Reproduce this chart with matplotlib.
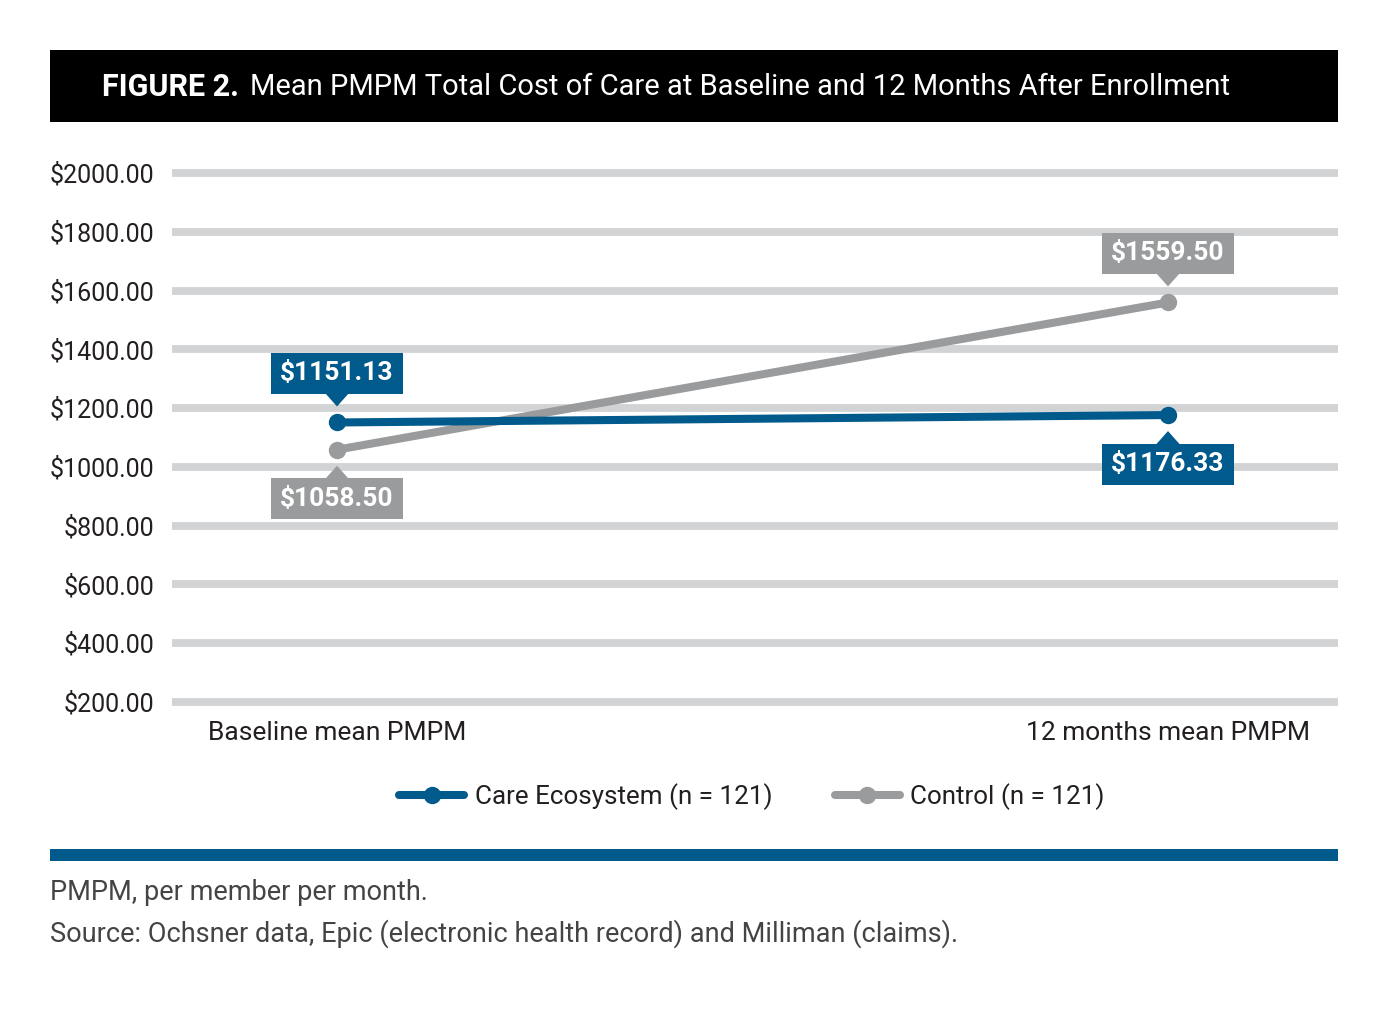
import matplotlib
matplotlib.use("Agg")
import matplotlib.pyplot as plt
from matplotlib.patches import Rectangle, Polygon
from matplotlib.transforms import Affine2D, ScaledTranslation
from matplotlib.lines import Line2D

plt.rcParams['font.family'] = ['Roboto', 'DejaVu Sans']

categories = ["Baseline mean PMPM", "12 months mean PMPM"]
care_values = [1151.13, 1176.33]
control_values = [1058.50, 1559.50]
series_names = ["Care Ecosystem (n = 121)", "Control (n = 121)"]
yticks = [200, 400, 600, 800, 1000, 1200, 1400, 1600, 1800, 2000]
title_bold = "FIGURE 2."
title_rest = "Mean PMPM Total Cost of Care at Baseline and 12 Months After Enrollment"
footnotes = ["PMPM, per member per month.",
             "Source: Ochsner data, Epic (electronic health record) and Milliman (claims)."]

BLUE = "#005a8c"
GRAY = "#9a9b9d"
GRID = "#d1d3d4"
TEXT = "#231f20"

W, H = 1388, 1010
fig = plt.figure(figsize=(W / 100, H / 100), dpi=100)

def fx(px):
    return px / W

def fy(py):
    return 1 - py / H

# title bar
fig.patches.append(Rectangle((fx(50), fy(122)), fx(1338) - fx(50), fy(50) - fy(122),
                             transform=fig.transFigure, facecolor="black", edgecolor="none"))
t1 = fig.text(fx(102), fy(87), title_bold, color="white", fontsize=22, fontweight="bold",
              va="center", ha="left")
fig.canvas.draw()
bb = t1.get_window_extent()
fig.text(bb.x1 / W + fx(11), fy(87), title_rest, color="white", fontsize=21,
         va="center", ha="left")

# bottom blue band
fig.patches.append(Rectangle((fx(50), fy(861)), fx(1338) - fx(50), fy(849) - fy(861),
                             transform=fig.transFigure, facecolor=BLUE, edgecolor="none"))
fig.text(fx(50), fy(892), footnotes[0], color="#444444", fontsize=19.5, va="center", ha="left")
fig.text(fx(50), fy(934), footnotes[1], color="#444444", fontsize=19.5, va="center", ha="left")

ax = fig.add_axes([fx(172), fy(702), fx(1338) - fx(172), fy(173) - fy(702)])
ax.set_xlim(-0.1986, 1.2046)
ax.set_ylim(200, 2000)
for s in ax.spines.values():
    s.set_visible(False)
for yv in yticks:
    ax.axhline(yv, color=GRID, lw=5.6, zorder=1, clip_on=False, solid_capstyle="butt")
ax.set_yticks(yticks)
ax.set_yticklabels([f"${v:.2f}" for v in yticks], fontsize=18, color=TEXT)
ax.tick_params(axis="y", length=0, pad=13)
ax.set_xticks([0, 1])
ax.set_xticklabels(categories, fontsize=19, color=TEXT)
ax.tick_params(axis="x", length=0, pad=14)

xs = list(range(len(categories)))
ax.plot(xs, control_values, color=GRAY, lw=5.8, marker="o", ms=11.5, zorder=3, clip_on=False,
        solid_capstyle="round")
ax.plot(xs, care_values, color=BLUE, lw=5.8, marker="o", ms=11.5, zorder=4, clip_on=False,
        solid_capstyle="round")

def callout(x, y, text, color, above):
    trans = Affine2D() + ScaledTranslation(x, y, ax.transData)
    sgn = 1 if above else -1
    near, far = 28.5, 69.5
    cy = sgn * (near + far) / 2
    ax.add_patch(Rectangle((-66, min(sgn * near, sgn * far)), 132, far - near, transform=trans,
                           facecolor=color, edgecolor="none", zorder=6, clip_on=False))
    ax.add_patch(Polygon([(-12, sgn * (near + 1)), (12, sgn * (near + 1)), (0, sgn * 16)],
                         closed=True, transform=trans, facecolor=color, edgecolor="none",
                         zorder=6, clip_on=False))
    ax.text(0, cy, text, transform=trans, ha="center", va="center", color="white",
            fontsize=19, fontweight="bold", zorder=7, clip_on=False)

callout(0, care_values[0], f"${care_values[0]:.2f}", BLUE, True)
callout(1, care_values[1], f"${care_values[1]:.2f}", BLUE, False)
callout(0, control_values[0], f"${control_values[0]:.2f}", GRAY, False)
callout(1, control_values[1], f"${control_values[1]:.2f}", GRAY, True)

handles = [Line2D([], [], color=BLUE, lw=5.8, marker="o", ms=11.5, solid_capstyle="round"),
           Line2D([], [], color=GRAY, lw=5.8, marker="o", ms=11.5, solid_capstyle="round")]
leg = fig.legend(handles, series_names, loc="center", bbox_to_anchor=(fx(752), fy(797)),
                 ncol=2, frameon=False, fontsize=18.7, handlelength=2.5, handletextpad=0.4,
                 columnspacing=2.4, numpoints=1, labelcolor=TEXT)

fig.savefig("out.png", dpi=100)
